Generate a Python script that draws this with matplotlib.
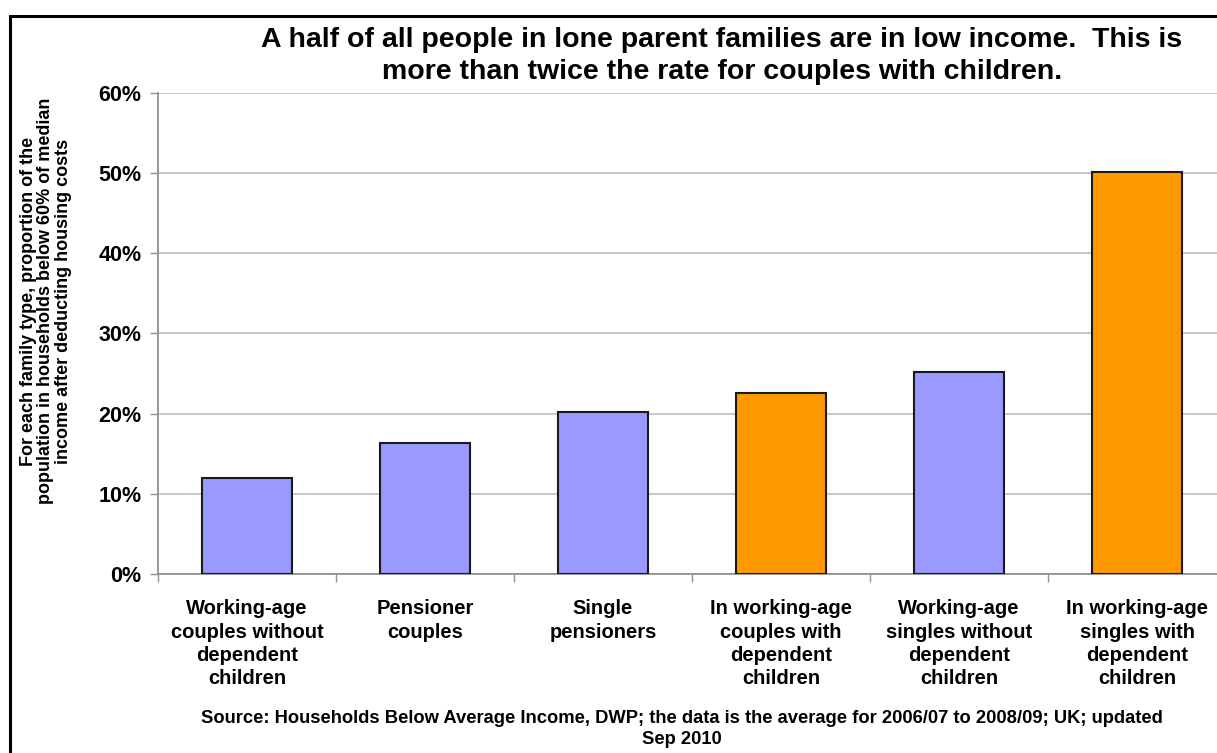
import numpy as np
import matplotlib.pyplot as plt
import matplotlib.patches as patches
from matplotlib.ticker import FixedLocator, FuncFormatter

plt.rcParams['font.family'] = ['Liberation Sans', 'DejaVu Sans']
plt.rcParams['font.weight'] = 'bold'

categories = ["Working-age\ncouples without\ndependent\nchildren",
              "Pensioner\ncouples",
              "Single\npensioners",
              "In working-age\ncouples with\ndependent\nchildren",
              "Working-age\nsingles without\ndependent\nchildren",
              "In working-age\nsingles with\ndependent\nchildren"]
rates = [0.12, 0.164, 0.202, 0.226, 0.252, 0.502]
with_children = [False, False, False, True, False, True]

purple = "#9999FF"
orange = "#FF9900"

title = ("A half of all people in lone parent families are in low income.  This is\n"
         "more than twice the rate for couples with children.")
ylabel = ("For each family type, proportion of the\n"
          "population in households below 60% of median\n"
          "income after deducting housing costs")
source = ("Source: Households Below Average Income, DWP; the data is the average for 2006/07 to 2008/09; UK; updated\n"
          "Sep 2010")

fig = plt.figure(figsize=(12.17, 7.53), dpi=100)
axis = fig.add_axes([158/1217, 1-574/753, 1068/1217, (574-93)/753])

x = np.arange(len(categories))
colors = [orange if c else purple for c in with_children]
axis.bar(x, rates, width=0.505, color=colors, edgecolor="#1a1a1a", linewidth=1.5, zorder=3)

axis.set_xlim(-0.5, len(categories) - 0.5)
axis.set_ylim(0, 0.6)
axis.yaxis.set_major_locator(FixedLocator(np.arange(0, 0.61, 0.1)))
axis.yaxis.set_major_formatter(FuncFormatter(lambda v, p: "%d%%" % round(v * 100)))
axis.yaxis.grid(True, color="#c4c4c4", linewidth=1.3, zorder=0)

axis.set_xticks(x)
axis.set_xticklabels(categories, fontsize=14.5, fontweight='bold', linespacing=1.3)
axis.xaxis.set_minor_locator(FixedLocator(np.arange(-0.5, len(categories), 1.0)))
axis.tick_params(axis='x', which='major', length=0, pad=18)
axis.tick_params(axis='x', which='minor', length=6, color="#909090", width=1)
axis.tick_params(axis='y', length=6, color="#909090", width=1, labelsize=15.5, pad=6)
for lab in axis.get_yticklabels():
    lab.set_fontweight('bold')

for s in ['top', 'right']:
    axis.spines[s].set_visible(False)
for s in ['left', 'bottom']:
    axis.spines[s].set_color("#909090")
    axis.spines[s].set_linewidth(1.3)

fig.text(722/1217, 1-56/753, title, ha='center', va='center', fontsize=20.5,
         fontweight='bold', linespacing=1.3)
fig.text(46/1217, 1-301/753, ylabel, ha='center', va='center', rotation=90,
         fontsize=13, fontweight='bold', linespacing=1.05)
fig.text(682/1217, 1-729/753, source, ha='center', va='center', fontsize=13.2,
         fontweight='bold', linespacing=1.38)

fig.patches.append(patches.Rectangle((10/1217, -0.05), 1.1, 1-16/753 + 0.05,
                                     transform=fig.transFigure, fill=False,
                                     edgecolor='black', linewidth=2.2))

fig.savefig("out.png", dpi=100)
